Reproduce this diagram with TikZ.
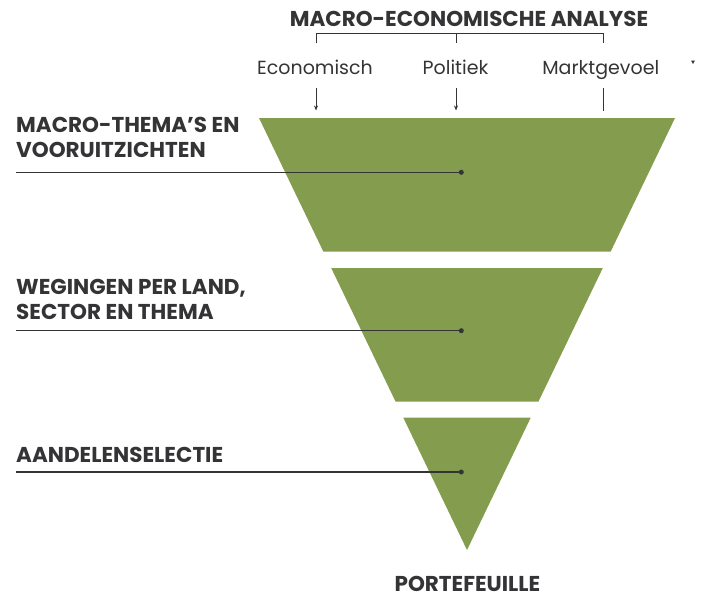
\documentclass[tikz,border=0pt]{standalone}
\usepackage{fontspec}
\setmainfont{Poppins}
\usetikzlibrary{arrows.meta}
\definecolor{leaf}{RGB}{132,156,77}
\definecolor{ink}{RGB}{52,52,54}
\tikzset{
  head/.style={font=\fontsize{21.5}{21.5}\selectfont\bfseries, text=ink, inner sep=0pt},
  sub/.style={font=\fontsize{19}{19}\selectfont, text=ink, inner sep=0pt},
  tier/.style={fill=leaf, draw=none},
  leader/.style={draw=ink, line width=1.4pt},
  pin/.style={circle, fill=ink, inner sep=0pt, minimum size=5pt},
  feed/.style={draw=ink, line width=0.9pt},
  feedarrow/.style={feed, -{Stealth[length=5pt,width=4pt]}},
}
\begin{document}
\begin{tikzpicture}[x=1pt,y=-1pt]
\useasboundingbox (0,0) rectangle (712,600);

% funnel tiers
\fill[tier] (259,118) -- (675,118) -- (610.6,251.7) -- (323.4,251.7) -- cycle;
\fill[tier] (331.2,268) -- (602.8,268) -- (538.4,401.7) -- (395.6,401.7) -- cycle;
\fill[tier] (403.3,417.7) -- (530.7,417.7) -- (467,550) -- cycle;

% analysis header with bracket
\node[head, anchor=base] (title) at (469,26.7) {MACRO-ECONOMISCHE ANALYSE};
\draw[feed] (316,43.3) -- (316,33.3) -- (603,33.3) -- (603,43.3);
\draw[feed] (456,33.3) -- (456,43.3);

\node[sub, anchor=base] (econ) at (315,74) {Economisch};
\node[sub, anchor=base] (poli) at (455.5,74) {Politiek};
\node[sub, anchor=base] (mark) at (600.8,74) {Marktgevoel};
\fill[ink] (691,60.5) -- (695,60.5) -- (693,64) -- cycle;

\coordinate (econA) at (316,88);  \coordinate (econB) at (316,110.5);
\coordinate (poliA) at (456,88);  \coordinate (poliB) at (456,110.5);
\coordinate (markA) at (603,88);  \coordinate (markB) at (603,110.5);
\draw[feedarrow] (econA) -- (econB);
\draw[feedarrow] (poliA) -- (poliB);
\draw[feed] (markA) -- (markB);

% tier labels and leaders
\node[head, anchor=base west] (t1a) at (16,132.3) {MACRO-THEMA’S EN};
\node[head, anchor=base west] (t1b) at (16,157.3) {VOORUITZICHTEN};
\coordinate (s1) at (16,172.3);
\node[pin] (p1) at (461.3,172.3) {};
\draw[leader] (s1) -- (p1.center);

\node[head, anchor=base west] (t2a) at (16,294) {WEGINGEN PER LAND,};
\node[head, anchor=base west] (t2b) at (16,319) {SECTOR EN THEMA};
\coordinate (s2) at (16,330.7);
\node[pin] (p2) at (461.3,330.7) {};
\draw[leader] (s2) -- (p2.center);

\node[head, anchor=base west] (t3) at (16,462.3) {AANDELENSELECTIE};
\coordinate (s3) at (16,472);
\node[pin] (p3) at (461.3,472) {};
\draw[leader] (s3) -- (p3.center);

\node[head, anchor=base] (port) at (467.5,591) {PORTEFEUILLE};
\end{tikzpicture}
\end{document}
